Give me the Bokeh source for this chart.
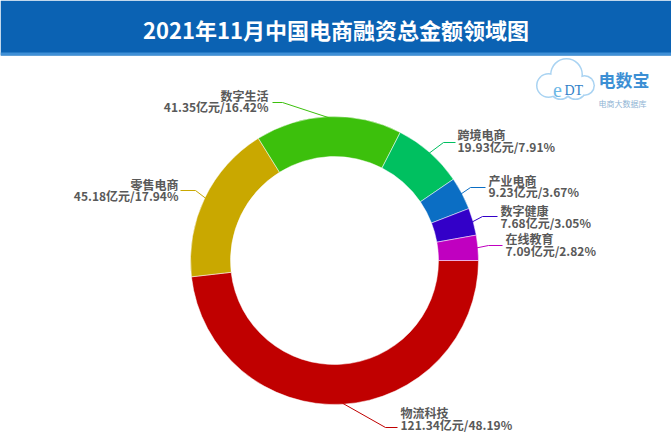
import math
from bokeh.plotting import figure
from bokeh.models import Range1d, ColumnDataSource
from bokeh.core.properties import value
from bokeh.embed import file_html
from bokeh.resources import INLINE

# ---- data ----
categories = ["物流科技", "零售电商", "数字生活", "跨境电商", "产业电商", "数字健康", "在线教育"]
amounts = [121.34, 45.18, 41.35, 19.93, 9.23, 7.68, 7.09]
percents = [48.19, 17.94, 16.42, 7.91, 3.67, 3.05, 2.82]
colors = ["#c00000", "#c9a800", "#3cc00c", "#00c060", "#0b6ec4", "#3300c8", "#c000c0"]
title = "2021年11月中国电商融资总金额领域图"

# ---- layout (pixel coords, y from top) ----
W, H = 671, 434
CX, CY = 334, 260
R_IN, R_OUT = 104, 144
# elbow x, elbow y, end x, text x, name y, value y, align
label_layout = [
    (385, 427, 397, 400, 412, 424, "left"),
    (195, 190, 180, 178, 184, 195, "right"),
    (282, 102, 272, 268, 95, 106, "right"),
    (443, 142, 455, 457, 134, 146, "left"),
    (470, 187, 485, 488, 180, 191, "left"),
    (482, 216, 497, 500, 210, 222, "left"),
    (488, 245, 502, 505, 238, 250, "left"),
]

def Y(py):
    return H - py

FONT = value("Noto Sans CJK SC")

p = figure(width=W, height=H, x_range=Range1d(0, W), y_range=Range1d(0, H),
           output_backend="svg", toolbar_location=None, min_border=0)
p.axis.visible = False
p.grid.visible = False
p.outline_line_color = None
p.background_fill_color = "white"
p.border_fill_color = "white"

# header
p.quad(left=0, right=W, top=Y(0), bottom=Y(55), fill_color="#0b62b3", line_color=None)
p.quad(left=0, right=W, top=Y(52), bottom=Y(55), fill_color="#3f8fd6", line_color=None)
p.text(x=[W / 2], y=[Y(28)], text=[title], text_color="white", text_font=FONT,
       text_font_style="bold", text_font_size="22px", text_align="center", text_baseline="middle")

# donut
total = sum(percents)
starts, ends, mids = [], [], []
cum = 0.0
for v in percents:
    a0 = cum / total * 2 * math.pi
    cum += v
    a1 = cum / total * 2 * math.pi
    starts.append(-a1)
    ends.append(-a0)
    mids.append(-(a0 + a1) / 2)

src = ColumnDataSource(dict(start=starts, end=ends, color=colors))
p.annular_wedge(x=CX, y=Y(CY), inner_radius=R_IN, outer_radius=R_OUT,
                start_angle="start", end_angle="end", direction="anticlock",
                fill_color="color", line_color="white", line_width=0.5, source=src)

# leader lines and labels
xs, ys = [], []
for i, m in enumerate(mids):
    ex, ey, hx, tx, ny, vy, al = label_layout[i]
    rx = CX + (R_OUT - 1) * math.cos(m)
    ry = Y(CY) + (R_OUT - 1) * math.sin(m)
    xs.append([rx, ex, hx])
    ys.append([ry, Y(ey), Y(ey)])
p.multi_line(xs=xs, ys=ys, line_color=colors, line_width=1)

for i, name in enumerate(categories):
    ex, ey, hx, tx, ny, vy, al = label_layout[i]
    p.text(x=[tx], y=[Y(ny)], text=[name], text_color="#595959", text_font=FONT,
           text_font_style="bold", text_font_size="12px", text_align=al, text_baseline="middle")
    p.text(x=[tx], y=[Y(vy)], text=[f"{amounts[i]:.2f}亿元/{percents[i]:.2f}%"],
           text_color="#595959", text_font=FONT, text_font_style="bold",
           text_font_size="12px", text_align=al, text_baseline="middle")

# logo (cloud + text)
cloud_x = [548, 566, 584, 560, 575]
cloud_y = [Y(85), Y(74), Y(85), Y(88), Y(88)]
cloud_r = [11, 15, 9, 10, 10]
p.circle(x=cloud_x, y=cloud_y, radius=[r + 1.5 for r in cloud_r], fill_color="#a9d3f2", line_color=None)
p.circle(x=cloud_x, y=cloud_y, radius=cloud_r, fill_color="white", line_color=None)
p.text(x=[557], y=[Y(89)], text=["e"], text_color="#6cb8e6", text_font=value("Liberation Serif"),
       text_font_size="20px", text_align="center", text_baseline="middle")
p.text(x=[564], y=[Y(90)], text=["DT"], text_color="#2f7fc8", text_font=value("Liberation Serif"),
       text_font_size="14px", text_align="left", text_baseline="middle")
p.text(x=[598], y=[Y(79)], text=["电数宝"], text_color="#3c8fd4", text_font=FONT,
       text_font_style="bold", text_font_size="17px", text_align="left", text_baseline="middle")
p.text(x=[598], y=[Y(103)], text=["电商大数据库"], text_color="#8fb4d4", text_font=FONT,
       text_font_size="8px", text_align="left", text_baseline="middle")

open("out.html", "w").write(file_html(p, INLINE))
